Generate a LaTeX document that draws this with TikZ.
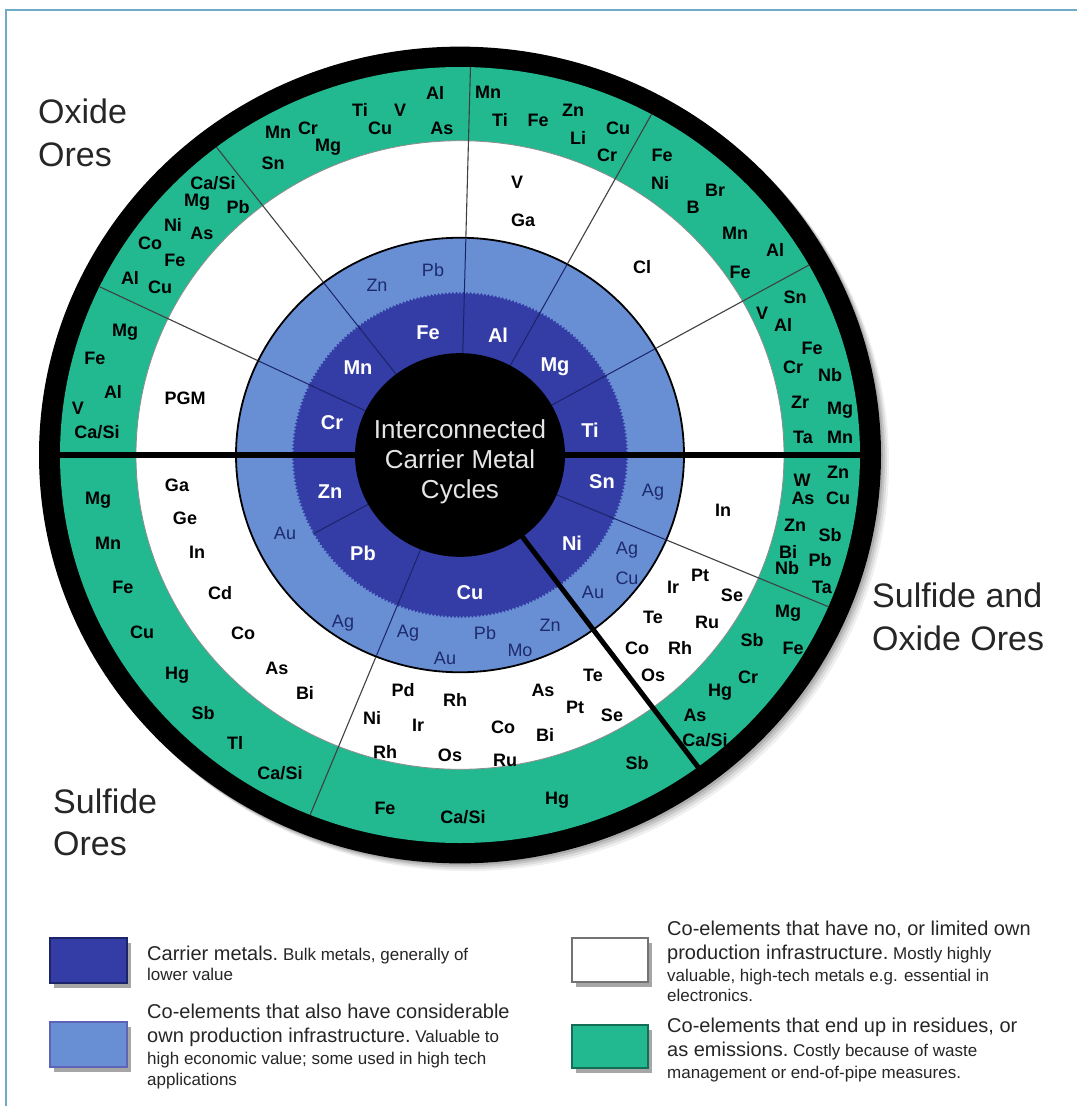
\documentclass[tikz,border=0pt]{standalone}
\usepackage{fontspec}
\setmainfont{Liberation Sans}
\usetikzlibrary{decorations.pathmorphing}
\definecolor{cdark}{RGB}{52,60,165}
\definecolor{clight}{RGB}{104,142,212}
\definecolor{cgreen}{RGB}{34,184,144}
\definecolor{cframe}{RGB}{112,170,200}
\definecolor{cnavy}{RGB}{28,36,105}
\definecolor{clbtext}{RGB}{30,42,110}
\definecolor{ctext}{RGB}{38,38,38}
\newcommand\CaSi{Ca/Si}
\newcommand\lgs{\fontsize{17}{20}\selectfont}
\tikzset{
  el/.style={font=\fontsize{18}{19}\selectfont\bfseries, text=black, inner sep=0pt},
  coel/.style={font=\fontsize{18}{19}\selectfont, text=clbtext, inner sep=0pt},
  carr/.style={font=\fontsize{20}{21}\selectfont\bfseries, text=white, inner sep=0pt},
  bigtitle/.style={font=\fontsize{34}{41}\selectfont, text=ctext, anchor=base west, inner sep=0pt},
  lgbig/.style={font=\fontsize{20}{24}\selectfont, text=ctext, anchor=base west, inner sep=0pt},
  lgsmall/.style={font=\lgs, text=ctext, anchor=base west, inner sep=0pt},
  lgbox/.style={line width=1.2pt},
  lgshadow/.style={fill=black, opacity=0.35},
  ringdiv/.style={black!75, line width=1.1pt},
  bluediv/.style={cnavy, line width=1pt},
}
\begin{document}
\begin{tikzpicture}[x=1pt,y=-1pt]
\useasboundingbox (0,0) rectangle (1077,1106);
\fill[white] (0,0) rectangle (1077,1106);
% frame
\draw[cframe, line width=2pt] (6,1106) -- (6,10) -- (1077,10);

% ---------------- wheel ----------------
\begin{scope}[shift={(460,455)}, x=1pt, y=0.97pt]
  \foreach \s/\o in {8/0.06, 6/0.08, 4/0.10, 2/0.12}
    \fill[black, opacity=\o] (\s,-\s) circle[radius=421];
  \fill[black] (0,0) circle[radius=421];
  \fill[cgreen] (0,0) circle[radius=400];
  \fill[white] (0,0) circle[radius=324];
  \draw[black!45, line width=0.8pt] (0,0) circle[radius=324];
  \fill[clight] (0,0) circle[radius=224];
  \fill[cdark, decorate, decoration={zigzag, amplitude=1.2pt, segment length=3.6pt}] (0,0) circle[radius=167];
  \draw[black, line width=1.8pt] (0,0) circle[radius=224];
  \foreach \a in {29.3,61.4,88.5,127.5,154.3,248,337}
    \draw[ringdiv] (\a:225) -- (\a:400);
  \foreach \a in {29.3,61.4,88.5,127.5,154.3,248,337}
    \draw[bluediv] (\a:163) -- (\a:223);
  \foreach \a in {29.3,61.4,88.5,127.5,154.3,209,248,337}
    \draw[bluediv] (\a:105) -- (\a:168);
  \fill[black] (0,0) circle[radius=105];
  \draw[black, line width=6pt] (180:419) -- (0:419);
  \draw[black, line width=5pt] (306.5:104) -- (306.5:419);
\end{scope}

% centre text
\node[align=center, text=black!10, font=\fontsize{26}{30}\selectfont] (centre) at (460,462)
  {Interconnected\\Carrier Metal\\Cycles};

% carrier metals
\foreach \t/\x/\y [count=\i] in {Fe/428/333, Al/498/335, Mg/555/367, Ti/590/430, Cr/332/423,
  Mn/358/368, Zn/330/492, Pb/363/553, Cu/470/593, Ni/572/543, Sn/602/482}
  \node[carr] (cm\i) at (\x,\y) {\t};

% co-elements with own infrastructure (light blue ring)
\foreach \t/\x/\y [count=\i] in {Zn/377/285, Pb/433/270, Au/285/533, Ag/343/623, Ag/408/633,
  Au/445/658, Pb/485/633, Mo/520/650, Zn/550/625, Au/593/592, Ag/627/550, Cu/627/578, Ag/653/492}
  \node[coel] (lb\i) at (\x,\y) {\t};

% white ring
\foreach \t/\x/\y [count=\i] in {PGM/185/398, V/517/182, Ga/523/220, Cl/642/267,
  Ga/177/485, Ge/185/518, In/197/552, Cd/220/593, Co/243/633, As/277/668, Bi/305/693,
  Pd/403/690, Rh/455/700, Ni/372/718, Ir/418/725, Rh/385/752, Os/450/755,
  Te/593/675, As/543/690, Pt/575/707, Se/612/715, Co/503/727, Bi/545/735, Ru/505/760,
  Pt/700/575, Ir/673/587, Se/732/595, Te/653/617, Ru/707/622, Co/637/648, Rh/680/648, Os/653/675,
  In/723/510}
  \node[el] (wr\i) at (\x,\y) {\t};

% green ring
\foreach \t/\x/\y [count=\i] in {Al/435/93, As/442/128, Ti/360/110, V/400/110, Cu/380/128,
  Mn/278/132, Cr/308/128, Mg/328/147, Sn/273/163,
  \CaSi/213/183, Mg/197/202, Pb/238/207, Ni/173/225, As/202/233, Co/150/243, Fe/175/260, Al/130/278, Cu/160/287,
  Mg/125/332, Fe/95/358, Al/113/392, V/78/408, \CaSi/97/432,
  Mn/488/92, Ti/500/120, Fe/538/120, Zn/573/110, Li/578/138, Cu/618/128, Cr/607/155,
  Fe/662/155, Ni/660/183, Br/715/190, B/693/207, Mn/735/233, Al/775/250, Fe/740/272,
  Sn/795/297, V/762/313, Al/783/325, Fe/812/348, Cr/793/367, Nb/830/375, Zr/800/402, Mg/840/410, Ta/803/437, Mn/840/437,
  Mg/98/500, Mn/108/543, Fe/123/587, Cu/142/632, Hg/177/675, Sb/203/713, Tl/235/743, \CaSi/280/773,
  Fe/385/808, \CaSi/463/817, Hg/557/800, Sb/637/763,
  Mg/788/613, Sb/752/640, Fe/793/648, Cr/748/677, Hg/720/692, As/695/715, \CaSi/705/740,
  W/802/480, Zn/838/472, As/803/498, Cu/838/498, Zn/795/525, Sb/830/535, Bi/788/552, Pb/820/560, Nb/787/568, Ta/822/587}
  \node[el] (gr\i) at (\x,\y) {\t};

% ore titles
\node[bigtitle] (ox1) at (38,123) {Oxide};
\node[bigtitle] (ox2) at (38,166) {Ores};
\node[bigtitle] (su1) at (53,813) {Sulfide};
\node[bigtitle] (su2) at (53,855) {Ores};
\node[bigtitle] (so1) at (872,607) {Sulfide and};
\node[bigtitle] (so2) at (872,650) {Oxide Ores};

% legend boxes
\fill[lgshadow] (54,943) rectangle (131,988);
\fill[cdark] (50,938) rectangle (127,983);
\draw[lgbox, cnavy] (50,938) rectangle (127,983);
\fill[lgshadow] (54,1027) rectangle (131,1072);
\fill[clight] (50,1022) rectangle (127,1067);
\draw[lgbox, cdark!80] (50,1022) rectangle (127,1067);
\fill[lgshadow] (576,943) rectangle (652,987);
\fill[white] (572,938) rectangle (648,982);
\draw[lgbox, black!55] (572,938) rectangle (648,982);
\fill[lgshadow] (576,1030) rectangle (652,1073);
\fill[cgreen] (572,1025) rectangle (648,1068);
\draw[lgbox, cgreen!60!black] (572,1025) rectangle (648,1068);

% legend text
\node[lgbig] (l1a) at (147,960) {Carrier metals.{\lgs\ Bulk metals, generally of}};
\node[lgsmall] (l1b) at (147,980) {lower value};
\node[lgbig] (l2a) at (147,1018) {Co-elements that also have considerable};
\node[lgbig] (l2b) at (147,1042) {own production infrastructure.{\lgs\ Valuable to}};
\node[lgsmall] (l2c) at (147,1064) {high economic value; some used in high tech};
\node[lgsmall] (l2d) at (147,1085) {applications};
\node[lgbig] (l3a) at (667,935) {Co-elements that have no, or limited own};
\node[lgbig] (l3b) at (667,959) {production infrastructure.{\lgs\ Mostly highly}};
\node[lgsmall] (l3c) at (667,981) {valuable, high-tech metals e.g. essential in};
\node[lgsmall] (l3d) at (667,1001) {electronics.};
\node[lgbig] (l4a) at (667,1032) {Co-elements that end up in residues, or};
\node[lgbig] (l4b) at (667,1056) {as emissions.{\lgs\ Costly because of waste}};
\node[lgsmall] (l4c) at (667,1078) {management or end-of-pipe measures.};
\end{tikzpicture}
\end{document}
